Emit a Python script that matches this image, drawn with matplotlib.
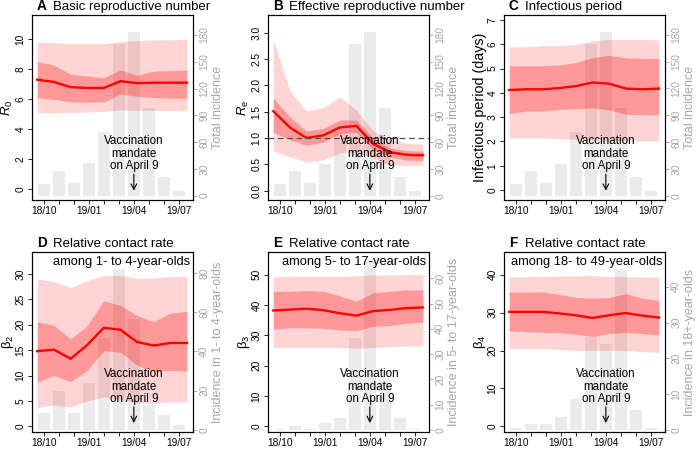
import matplotlib
matplotlib.use("Agg")
import matplotlib.pyplot as plt
import matplotlib.transforms as mtrans
import numpy as np

plt.rcParams["font.family"] = ["Liberation Sans", "DejaVu Sans"]
plt.rcParams["mathtext.fontset"] = "custom"
plt.rcParams["mathtext.rm"] = "Liberation Sans"
plt.rcParams["mathtext.it"] = "Liberation Sans:italic"

# months of the incidence bars
months = ["18/10", "18/11", "18/12", "19/01", "19/02", "19/03",
          "19/04", "19/05", "19/06", "19/07"]

# monthly incidence (bars)
total_inc = [13, 28, 14, 36, 71, 170, 183, 98, 21, 5]
inc_1to4 = [8.9, 20, 8.9, 24, 47, 82, 56.5, 12.5, 7.9, 2.7]
inc_5to17 = [0.4, 1.7, 0.5, 2.6, 4.8, 36.5, 67.4, 20, 4.8, 0.4]
inc_18plus = [0.5, 1.6, 1.7, 3.7, 8.7, 25.9, 24, 45, 5.7, 0.7]

# A: basic reproductive number
r0_med = [7.3, 7.15, 6.8, 6.75, 6.75, 7.2, 7.07, 7.1, 7.1, 7.1]
r0_lo95 = [5.1, 5.1, 5.1, 5.15, 5.2, 5.3, 5.25, 5.25, 5.25, 5.25]
r0_hi95 = [9.8, 9.75, 9.7, 9.7, 9.7, 9.85, 9.9, 9.95, 9.95, 10.0]
r0_lo50 = [6.1, 6.0, 5.83, 5.79, 5.83, 6.34, 6.2, 6.12, 6.07, 6.05]
r0_hi50 = [8.5, 8.27, 7.67, 7.54, 7.43, 7.94, 7.6, 7.87, 7.9, 7.94]

# B: effective reproductive number
re_med = [1.51, 1.2, 1.0, 1.05, 1.2, 1.23, 0.89, 0.73, 0.68, 0.67]
re_lo95 = [0.75, 0.64, 0.54, 0.58, 0.72, 0.73, 0.62, 0.48, 0.48, 0.48]
re_hi95 = [2.87, 1.9, 1.51, 1.58, 1.78, 1.53, 1.14, 0.97, 0.9, 0.88]
re_lo50 = [1.11, 0.97, 0.86, 0.92, 1.08, 1.11, 0.78, 0.64, 0.58, 0.57]
re_hi50 = [1.76, 1.4, 1.13, 1.18, 1.34, 1.34, 1.0, 0.81, 0.76, 0.75]

# C: infectious period
ip_med = [4.12, 4.15, 4.15, 4.2, 4.28, 4.43, 4.38, 4.18, 4.15, 4.18]
ip_lo95 = [2.15, 2.15, 2.15, 2.1, 2.1, 2.05, 2.05, 2.02, 2.02, 2.02]
ip_hi95 = [5.9, 5.9, 5.95, 5.95, 6.0, 6.15, 6.2, 6.2, 6.2, 6.18]
ip_lo50 = [3.15, 3.25, 3.25, 3.32, 3.35, 3.38, 3.3, 3.12, 3.1, 3.1]
ip_hi50 = [5.12, 5.12, 5.12, 5.15, 5.25, 5.45, 5.55, 5.45, 5.42, 5.42]

# D: contact rate, 1- to 4-year-olds
b2_med = [14.8, 15.1, 13.3, 16.0, 19.4, 19.0, 16.6, 15.9, 16.4, 16.4]
b2_lo95 = [3.7, 4.2, 3.8, 5.0, 5.8, 5.3, 4.6, 4.6, 4.8, 4.8]
b2_hi95 = [29.0, 28.5, 27.3, 28.7, 29.7, 29.7, 29.1, 29.2, 29.5, 29.5]
b2_lo50 = [8.7, 10.0, 8.8, 11.0, 14.9, 14.6, 12.0, 10.9, 11.0, 10.9]
b2_hi50 = [20.5, 19.9, 17.2, 19.8, 24.7, 23.8, 21.8, 20.6, 22.3, 22.6]

# E: contact rate, 5- to 17-year-olds
b3_med = [38.2, 38.5, 38.8, 38.3, 37.3, 36.5, 38.0, 38.4, 39.0, 39.2]
b3_lo95 = [26.0, 26.0, 26.0, 26.0, 26.0, 25.7, 26.0, 26.2, 26.5, 26.5]
b3_hi95 = [49.3, 49.5, 49.5, 49.5, 49.5, 49.7, 49.9, 49.9, 50.0, 50.0]
b3_lo50 = [32.0, 32.5, 32.5, 32.3, 31.8, 31.5, 33.0, 33.2, 34.0, 34.3]
b3_hi50 = [44.5, 44.5, 44.8, 44.5, 43.0, 41.3, 44.0, 44.5, 45.0, 45.0]

# F: contact rate, 18- to 49-year-olds
b4_med = [30.2, 30.2, 30.2, 29.8, 29.3, 28.6, 29.3, 29.9, 29.2, 28.7]
b4_lo95 = [20.5, 20.5, 20.5, 20.3, 20.0, 20.0, 20.0, 20.0, 19.7, 19.5]
b4_hi95 = [39.4, 39.5, 39.6, 39.7, 39.7, 39.8, 39.5, 39.5, 39.4, 39.4]
b4_lo50 = [25.2, 25.0, 24.8, 24.7, 24.3, 23.7, 24.5, 24.8, 24.5, 24.0]
b4_hi50 = [35.4, 35.4, 35.5, 34.8, 34.0, 33.8, 34.0, 35.0, 33.8, 33.2]

GREY = "#a6a6a6"
TICK_FS = 7.3


def panel(fig, rect, letter, title, sub, ylabel, rlabel, est, bars,
          ylim, yticks, rylim, rticks, yfmt="{:g}", ylabel_size=9.5):
    med, lo95, hi95, lo50, hi50 = est
    xb = np.arange(len(months))
    xl = np.linspace(-0.45, len(months) - 0.45, len(med))

    ax = fig.add_axes(rect)
    ax2 = ax.twinx()
    ax2.bar(xb, bars, width=0.78, color="#ebebeb", lw=0)
    ax.set_zorder(ax2.get_zorder() + 1)
    ax.patch.set_visible(False)

    ax.fill_between(xl, lo95, hi95, color="red", alpha=0.17, lw=0)
    ax.fill_between(xl, lo50, hi50, color="red", alpha=0.28, lw=0)
    ax.plot(xl, med, color="red", lw=1.7)

    ax.set_xlim(-0.8, 9.95)
    ax.set_ylim(*ylim)
    ax2.set_ylim(*rylim)
    ax.set_xticks(xb)
    ax.set_xticklabels([m if i % 3 == 0 else "" for i, m in enumerate(months)])
    ax.set_yticks(yticks)
    ax.set_yticklabels([yfmt.format(v) for v in yticks])
    ax2.set_yticks(rticks)
    ax.tick_params(axis="both", labelsize=TICK_FS, length=3, width=0.6, pad=1.5)
    ax.tick_params(axis="y", labelrotation=90)
    for t in ax.get_yticklabels():
        t.set_va("center")
    ax2.tick_params(axis="y", labelsize=TICK_FS, length=3, width=0.6, pad=1.5,
                    labelrotation=90, colors=GREY)
    for t in ax2.get_yticklabels():
        t.set_va("center")
    for s in ax.spines.values():
        s.set_linewidth(0.8)
    for s in ax2.spines.values():
        s.set_linewidth(0.8)

    ax.set_ylabel(ylabel, fontsize=ylabel_size, va="center")
    ax.yaxis.set_label_coords(-0.15, 0.5)
    ax2.set_ylabel(rlabel, fontsize=9, color=GREY, va="center")
    ax2.yaxis.set_label_coords(1.155, 0.5)

    ax.annotate(letter, xy=(0, 1), xycoords="axes fraction", xytext=(3.5, 1.5),
                textcoords="offset points", fontsize=9.8, fontweight="bold",
                va="bottom")
    ax.annotate(title, xy=(0, 1), xycoords="axes fraction", xytext=(15, 1.5),
                textcoords="offset points", fontsize=9.5, va="bottom")
    if sub:
        ax.annotate(sub, xy=(1, 1), xycoords="axes fraction", xytext=(-2, -3),
                    textcoords="offset points", fontsize=9.3, ha="right",
                    va="top")

    tr = mtrans.blended_transform_factory(ax.transData, ax.transAxes)
    april = months.index("19/04")
    ax.text(april, 0.15, "Vaccination\nmandate\non April 9", transform=tr,
            ha="center", va="bottom", fontsize=8.4, linespacing=1.05)
    ax.annotate("", xy=(april, 0.05), xycoords=tr, xytext=(april, 0.14),
                textcoords=tr,
                arrowprops=dict(arrowstyle="->", lw=0.8, color="black",
                                shrinkA=0, shrinkB=0))
    return ax


fig = plt.figure(figsize=(7, 4.5), dpi=100)
W, H = 700.0, 450.0
lefts = [32, 268, 504]
top_row = (15, 200)
bot_row = (252, 432)


def rect(col, row):
    t, b = row
    return [lefts[col] / W, 1 - b / H, 161 / W, (b - t) / H]


panel(fig, rect(0, top_row), "A", "Basic reproductive number", None,
      r"$R_0$", "Total incidence",
      (r0_med, r0_lo95, r0_hi95, r0_lo50, r0_hi50), total_inc,
      (-0.7, 11.6), np.arange(0, 11, 2), (-4.9, 202.4), np.arange(0, 181, 30))

axb = panel(fig, rect(1, top_row), "B", "Effective reproductive number", None,
            r"$R_\mathrm{e}$", "Total incidence",
            (re_med, re_lo95, re_hi95, re_lo50, re_hi50), total_inc,
            (-0.18, 3.34), np.arange(0, 3.01, 0.5), (-4.5, 202),
            np.arange(0, 181, 30), yfmt="{:.1f}")
axb.axhline(1.0, color="#505050", lw=0.9, ls=(0, (4.5, 3)))

panel(fig, rect(2, top_row), "C", "Infectious period", None,
      "Infectious period (days)", "Total incidence",
      (ip_med, ip_lo95, ip_hi95, ip_lo50, ip_hi50), total_inc,
      (-0.41, 7.21), np.arange(0, 8, 1), (-4.5, 202), np.arange(0, 181, 30),
      ylabel_size=10.3)

panel(fig, rect(0, bot_row), "D", "Relative contact rate",
      "among 1- to 4-year-olds", r"β$_2$", "Incidence in 1- to 4-year-olds",
      (b2_med, b2_lo95, b2_hi95, b2_lo50, b2_hi50), inc_1to4,
      (-1.1, 34.3), np.arange(0, 31, 5), (-1.0, 90.6), np.arange(0, 81, 20))

panel(fig, rect(1, bot_row), "E", "Relative contact rate",
      "among 5- to 17-year-olds", r"β$_3$", "Incidence in 5- to 17-year-olds",
      (b3_med, b3_lo95, b3_hi95, b3_lo50, b3_hi50), inc_5to17,
      (-1.9, 57.5), np.arange(0, 51, 10), (-0.8, 70.4), np.arange(0, 61, 10))

panel(fig, rect(2, bot_row), "F", "Relative contact rate",
      "among 18- to 49-year-olds", r"β$_4$", "Incidence in 18+-year-olds",
      (b4_med, b4_lo95, b4_hi95, b4_lo50, b4_hi50), inc_18plus,
      (-1.5, 46.0), np.arange(0, 41, 10), (-0.5, 49.7), np.arange(0, 41, 10))

fig.savefig("out.png", dpi=100)
